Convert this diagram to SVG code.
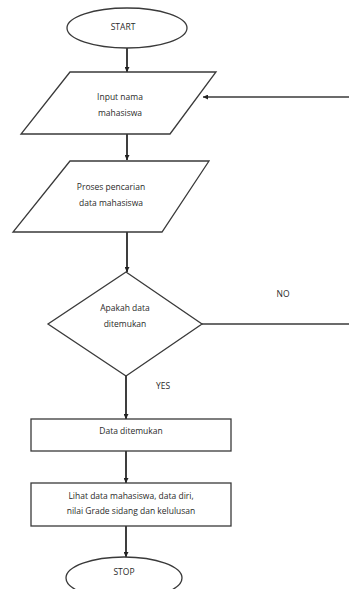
<svg xmlns="http://www.w3.org/2000/svg" width="349" height="589" viewBox="0 0 349 589">
<style>
.s{fill:#fff;stroke:#3a3a3a;stroke-width:1.3}
.c{fill:none;stroke:#2a2a2a;stroke-width:1.8}
.l{fill:none;stroke:#3a3a3a;stroke-width:1.3}
text{font-family:"Open Sans","Liberation Sans",sans-serif;font-size:8.5px;fill:#2a2a2a;text-anchor:middle}
</style>
<defs>
<marker id="a" viewBox="0 0 10 10" refX="10" refY="5" markerWidth="5" markerHeight="5" orient="auto" markerUnits="userSpaceOnUse">
<path d="M0,0L10,5L0,10z" fill="#222"/>
</marker>
</defs>
<rect width="349" height="589" fill="#fff"/>
<g id="connectors">
<line class="c" x1="127" y1="48" x2="127" y2="72" marker-end="url(#a)"/>
<line class="c" x1="127" y1="134" x2="127" y2="160" marker-end="url(#a)"/>
<line class="c" x1="127" y1="232" x2="127" y2="272" marker-end="url(#a)"/>
<line class="c" x1="126" y1="376" x2="126" y2="419" marker-end="url(#a)"/>
<line class="c" x1="126" y1="451" x2="126" y2="483" marker-end="url(#a)"/>
<line class="c" x1="126" y1="526" x2="126" y2="557" marker-end="url(#a)"/>
<line class="l" x1="202" y1="324" x2="349" y2="324"/>
<line class="l" x1="349" y1="97" x2="203" y2="97" marker-end="url(#a)"/>
<text x="283" y="297">NO</text>
<text x="163" y="389">YES</text>
</g>
<g id="start">
<ellipse class="s" cx="127" cy="28" rx="60" ry="20"/>
<text x="123" y="30">START</text>
</g>
<g id="input">
<polygon class="s" points="70,72 216,72 170,134 21,134"/>
<text x="120" y="100">Input nama</text>
<text x="120" y="116">mahasiswa</text>
</g>
<g id="proses">
<polygon class="s" points="70,161 209,161 162,232 13,232"/>
<text x="111" y="190">Proses pencarian</text>
<text x="111" y="206">data mahasiswa</text>
</g>
<g id="decision">
<polygon class="s" points="126,272 202,324 126,376 48,324"/>
<text x="125" y="311">Apakah data</text>
<text x="125" y="327">ditemukan</text>
</g>
<g id="found">
<rect class="s" x="31" y="419" width="200" height="32"/>
<text x="131" y="434">Data ditemukan</text>
</g>
<g id="lihat">
<rect class="s" x="31" y="483" width="200" height="43"/>
<text x="131" y="499">Lihat data mahasiswa, data diri,</text>
<text x="131" y="514">nilai Grade sidang dan kelulusan</text>
</g>
<g id="stop">
<ellipse class="s" cx="124" cy="578" rx="58" ry="21"/>
<text x="124" y="575">STOP</text>
</g>
</svg>
